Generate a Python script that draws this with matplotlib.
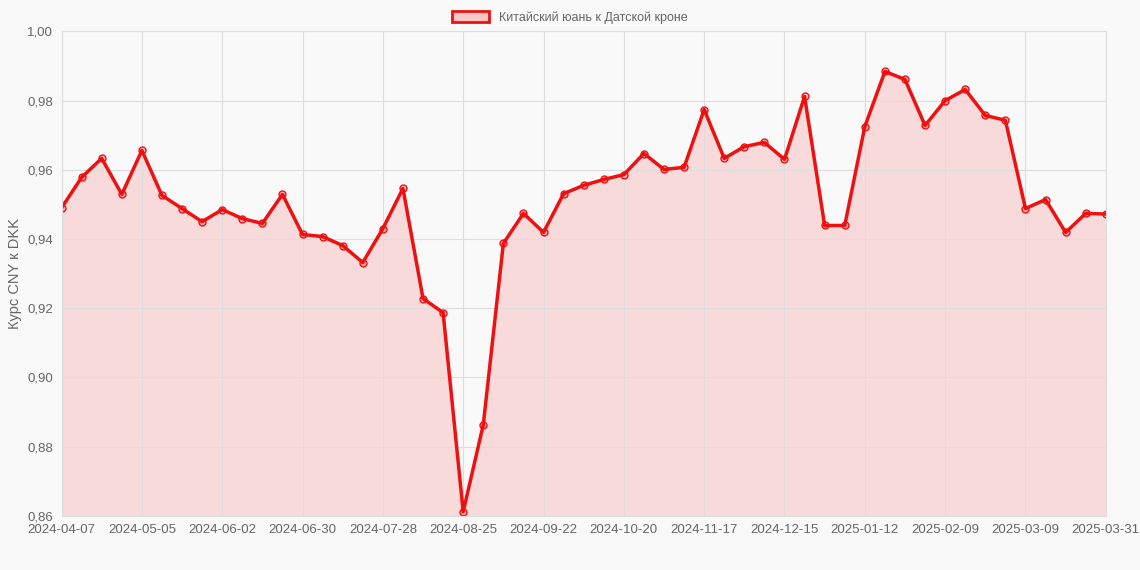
import matplotlib.pyplot as plt
import matplotlib.patches as mpatches

plt.rcParams['font.family'] = ['Liberation Sans', 'DejaVu Sans']

rates = [0.9490, 0.9578, 0.9633, 0.9529, 0.9656, 0.9526, 0.9488, 0.9450, 0.9485, 0.9459,
         0.9445, 0.9529, 0.9413, 0.9407, 0.9381, 0.9332, 0.9430, 0.9546, 0.9228, 0.9187,
         0.8612, 0.8863, 0.9387, 0.9474, 0.9419, 0.9531, 0.9555, 0.9572, 0.9586, 0.9647,
         0.9601, 0.9607, 0.9774, 0.9633, 0.9667, 0.9679, 0.9630, 0.9812, 0.9439, 0.9439,
         0.9725, 0.9884, 0.9861, 0.9728, 0.9800, 0.9832, 0.9757, 0.9743, 0.9488, 0.9514,
         0.9419, 0.9474, 0.9472]
tick_pos = [0, 4, 8, 12, 16, 20, 24, 28, 32, 36, 40, 44, 48, 52]
tick_labels = ["2024-04-07", "2024-05-05", "2024-06-02", "2024-06-30", "2024-07-28",
               "2024-08-25", "2024-09-22", "2024-10-20", "2024-11-17", "2024-12-15",
               "2025-01-12", "2025-02-09", "2025-03-09", "2025-03-31"]
yticks = [0.86, 0.88, 0.90, 0.92, 0.94, 0.96, 0.98, 1.00]

bg = "#f9f9f9"
fig = plt.figure(figsize=(11.4, 5.7), dpi=100, facecolor=bg)
ax = fig.add_axes([0.054, 0.095, 0.916, 0.85], facecolor=bg)
x = list(range(len(rates)))
ax.fill_between(x, rates, 0.86, color=(1, 0, 0, 0.12), linewidth=0)
ax.plot(x, rates, color="#ee1111", lw=2.5, marker="o", ms=5,
        mfc=(1, 0, 0, 0.2), mec="#ee1111", mew=1)
ax.set_xlim(0, len(rates) - 1)
ax.set_ylim(0.86, 1.0)
ax.set_xticks(tick_pos)
ax.set_xticklabels(tick_labels)
ax.set_yticks(yticks)
ax.set_yticklabels([f"{v:.2f}".replace(".", ",") for v in yticks])
ax.tick_params(colors="#666666", labelsize=9.5, length=0, pad=6)
ax.grid(True, color="#dddddd", lw=0.8)
for s in ax.spines.values():
    s.set_color("#dddddd")
ax.set_ylabel("Курс CNY к DKK", color="#666666", fontsize=10.5)

h = mpatches.Patch(facecolor=(1, 0, 0, 0.2), edgecolor="#ee1111", lw=2,
                   label="Китайский юань к Датской кроне")
fig.legend(handles=[h], loc="upper center", bbox_to_anchor=(0.5, 1.0), frameon=False,
           fontsize=9, labelcolor="#666666", handlelength=3.0, handleheight=1.0)

fig.savefig("out.png", facecolor=bg)
